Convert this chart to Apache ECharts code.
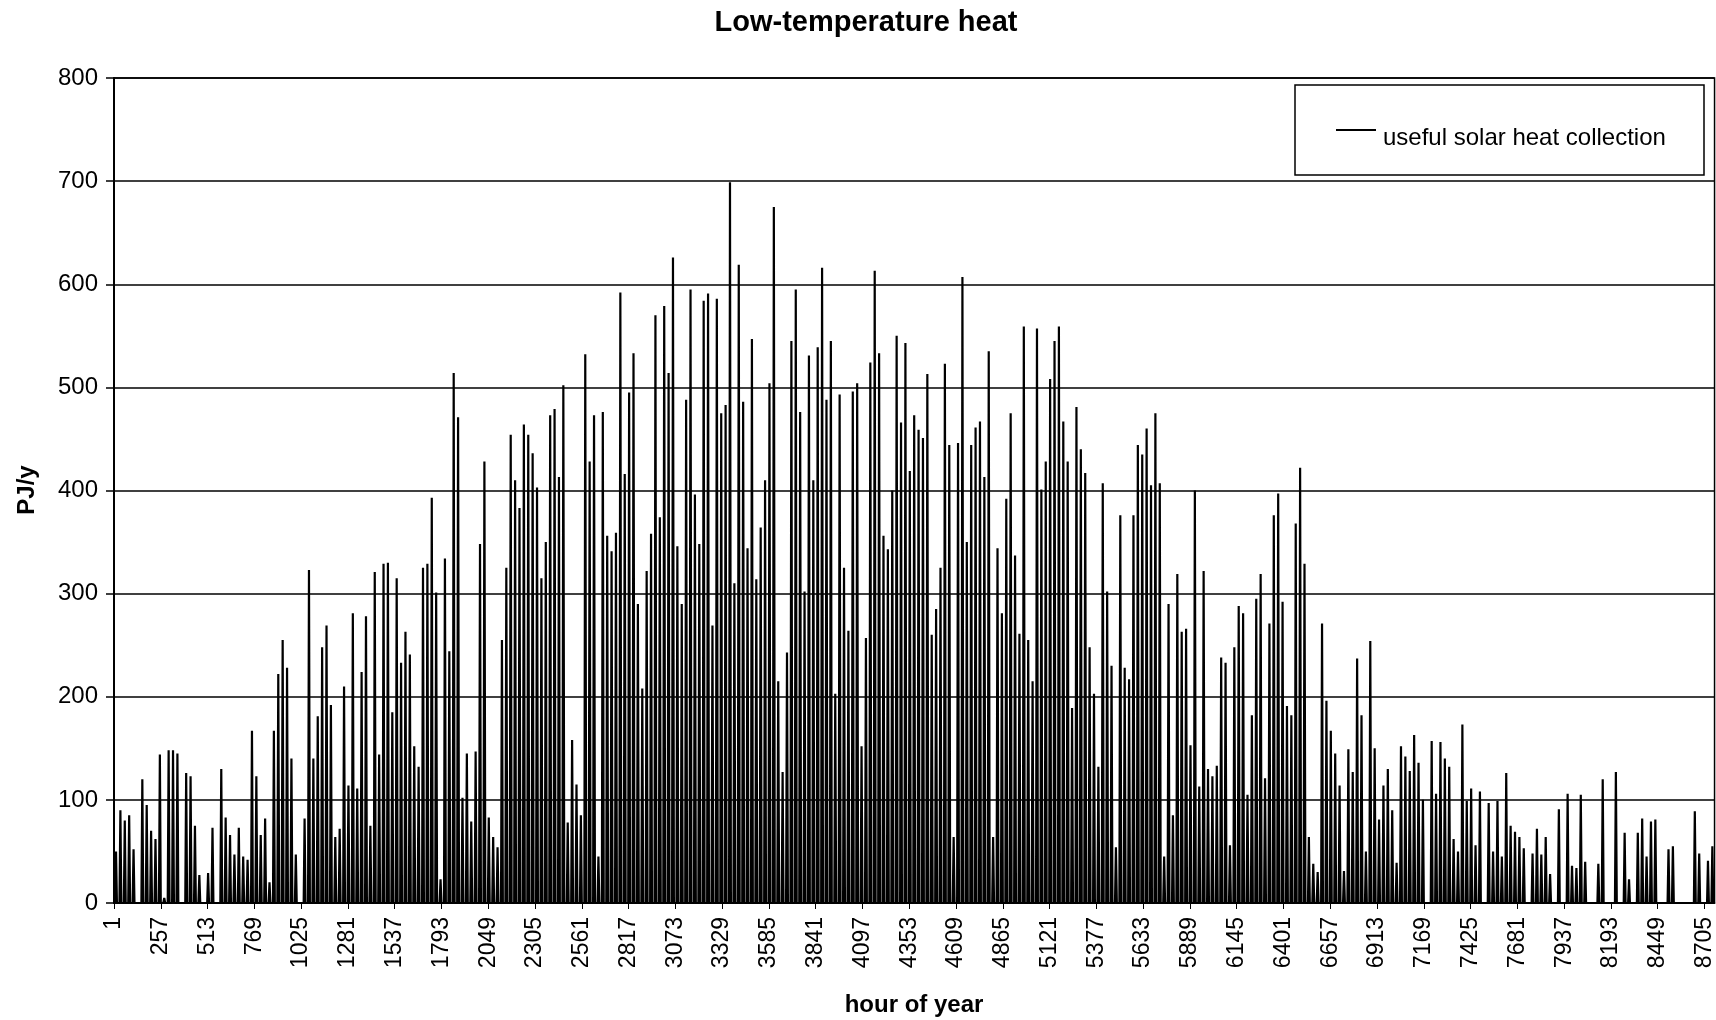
<!DOCTYPE html>
<html>
<head>
<meta charset="utf-8">
<title>Low-temperature heat</title>
<script src="https://cdn.jsdelivr.net/npm/echarts@6/dist/echarts.min.js"></script>
<style>
  html, body { margin: 0; padding: 0; background: #ffffff; }
  #chart { width: 1716px; height: 1020px; }
</style>
</head>
<body>
<div id="chart"></div>
<script>
// Hourly solar heat collection over one year (8760 hours).
// Each day shows as one spike; the values below are the daily peak output in PJ/y.
const seriesName = 'useful solar heat collection';
const hoursPerYear = 8760;
const yTicks = [0, 100, 200, 300, 400, 500, 600, 700, 800];

// daily peak, January – mid February
const peaksJanFeb = [
  50, 90, 80, 85, 52, 0, 120, 95, 70, 62, 144, 5, 148, 148, 145, 0, 126, 123, 75, 27,
  0, 29, 73, 0, 130, 83, 66, 47, 73, 45, 42,
  167, 123, 66, 82, 20, 167, 222, 255, 228, 140, 47, 0, 82, 323, 140, 181, 248, 269, 192,
  64, 72, 210, 114, 281, 111, 224, 278, 75, 321, 144, 329
];
// March – April
const peaksMarApr = [
  330, 185, 315, 233, 263, 241, 152, 132, 325, 329, 393, 301, 23, 334, 244, 514, 471, 102,
  145, 79, 147, 348, 428, 83, 64, 54, 255, 325, 454, 410,
  383, 464, 454, 436, 403, 315, 350, 473, 479, 413, 502, 78, 158, 115, 85, 532, 428, 473,
  45, 476, 356, 341, 359, 592, 416, 495, 533, 290, 208, 322, 358
];
// May – June
const peaksMayJun = [
  570, 374, 579, 514, 626, 346, 290, 488, 595, 396, 348, 584, 591, 269, 586, 475, 483, 699,
  310, 619, 486, 344, 547, 314, 364, 410, 504, 675, 215, 127,
  243, 545, 595, 476, 302, 531, 410, 539, 616, 488, 545, 203, 493, 325, 264, 496, 504, 152,
  257, 524, 613, 533, 356, 343, 400, 550, 466, 543, 419, 473, 459
];
// July – August
const peaksJulAug = [
  451, 513, 260, 285, 325, 523, 444, 64, 446, 607, 350, 444, 461, 467, 413, 535, 64, 344,
  281, 392, 475, 337, 261, 559, 255, 215, 557, 401, 428, 508,
  545, 559, 467, 428, 189, 481, 440, 417, 248, 203, 132, 407, 302, 230, 54, 376, 228, 217,
  376, 444, 435, 460, 405, 475, 407, 45, 290, 85, 319, 263, 266
];
// September – October
const peaksSepOct = [
  153, 400, 113, 322, 130, 123, 133, 238, 233, 56, 248, 288, 281, 105, 182, 295, 319, 121,
  271, 376, 397, 292, 191, 182, 368, 422, 329, 64, 38,
  30, 271, 196, 167, 145, 114, 31, 149, 127, 237, 182, 50, 254, 150, 81, 114, 130, 90, 39,
  152, 142, 128, 163, 136, 100, 0, 157, 106, 156, 140, 132, 62
];
// November – December
const peaksNovDec = [
  50, 173, 99, 111, 56, 108, 0, 97, 50, 99, 45, 126, 75, 69, 64, 53, 0, 48, 72, 47, 64,
  28, 0, 91, 0, 106, 36, 34, 105, 40,
  0, 0, 38, 120, 0, 0, 127, 0, 68, 23, 0, 68, 82, 45, 79, 81, 0, 0, 52, 55, 0, 0, 0, 0,
  89, 48, 0, 41, 55
];

const dailyPeak = [].concat(peaksJanFeb, peaksMarApr, peaksMayJun, peaksJulAug, peaksSepOct, peaksNovDec);

// hour-of-year categories: 1 … 8760
const hourLabels = [];
for (let h = 1; h <= hoursPerYear; h++) hourLabels.push(String(h));

// each day: zero in the night, peak around midday
const points = [];
dailyPeak.forEach(function (v, d) {
  const base = d * 24;
  points.push([base + 6, 0], [base + 11, v], [base + 16, 0]);
});
points.push([hoursPerYear - 1, 0]);

const FONT = '"Liberation Sans", Arial, sans-serif';

// legend box geometry (pixels)
const legendBox = { x: 1295, y: 85, w: 409, h: 90 };

const chart = echarts.init(document.getElementById('chart'), null, { renderer: 'canvas' });
chart.setOption({
  animation: false,
  backgroundColor: '#ffffff',
  grid: {
    left: 114, right: 1, top: 78, bottom: 117,
    show: true, borderColor: '#000000', borderWidth: 1.5, backgroundColor: 'transparent'
  },
  legend: { show: false, data: [seriesName] },
  xAxis: {
    type: 'category',
    data: hourLabels,
    boundaryGap: false,
    axisLine: { show: true, lineStyle: { color: '#000000', width: 1.5 } },
    axisTick: { show: true, interval: 255, length: 6, lineStyle: { color: '#000000' } },
    axisLabel: {
      interval: 255, rotate: 90, margin: 14,
      fontFamily: FONT, fontSize: 23, color: '#000000',
      padding: [0, 0, 7, 0]
    },
    splitLine: { show: false }
  },
  yAxis: {
    type: 'value',
    min: yTicks[0], max: yTicks[yTicks.length - 1], interval: 100,
    axisLine: { show: true, lineStyle: { color: '#000000', width: 2 } },
    axisTick: { show: true, length: 8, lineStyle: { color: '#000000', width: 1.5 } },
    axisLabel: { margin: 16, fontFamily: FONT, fontSize: 24, color: '#000000' },
    splitLine: { show: true, lineStyle: { color: '#000000', width: 1.5 } }
  },
  series: [{
    name: seriesName,
    type: 'line',
    data: points,
    showSymbol: false,
    symbol: 'none',
    sampling: null,
    lineStyle: { color: '#000000', width: 2.2 },
    itemStyle: { color: '#000000' },
    z: 3
  }],
  graphic: [
    {
      type: 'text', x: 866, y: 23,
      style: { text: 'Low-temperature heat', font: 'bold 29px ' + FONT, fill: '#000000', align: 'center', verticalAlign: 'middle' }
    },
    {
      type: 'text', x: 914, y: 1005,
      style: { text: 'hour of year', font: 'bold 24px ' + FONT, fill: '#000000', align: 'center', verticalAlign: 'middle' }
    },
    {
      type: 'text', x: 27, y: 490, rotation: Math.PI / 2,
      style: { text: 'PJ/y', font: 'bold 24px ' + FONT, fill: '#000000', align: 'center', verticalAlign: 'middle' }
    },
    {
      type: 'rect', z: 10,
      shape: { x: legendBox.x, y: legendBox.y, width: legendBox.w, height: legendBox.h },
      style: { fill: '#ffffff', stroke: '#000000', lineWidth: 1.5 }
    },
    {
      type: 'line', z: 11,
      shape: { x1: legendBox.x + 41, y1: legendBox.y + 45, x2: legendBox.x + 81, y2: legendBox.y + 45 },
      style: { stroke: '#000000', lineWidth: 2 }
    },
    {
      type: 'text', z: 11, x: legendBox.x + 88, y: legendBox.y + 53,
      style: { text: seriesName, font: '24px ' + FONT, fill: '#000000', align: 'left', verticalAlign: 'middle' }
    }
  ]
});
</script>
</body>
</html>
